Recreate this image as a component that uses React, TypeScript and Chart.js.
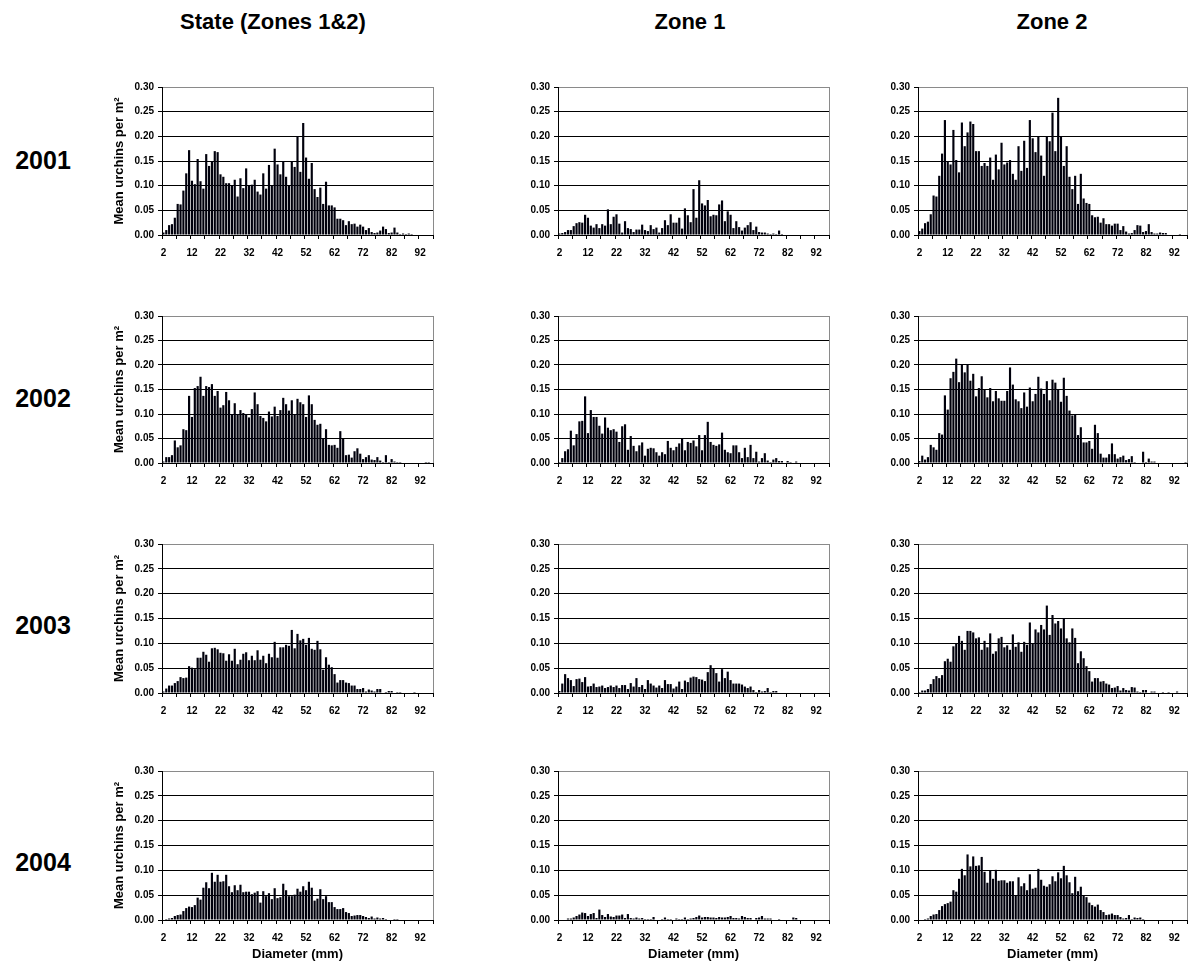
import React, { useEffect, useRef } from 'react';
import { Chart, registerables } from 'chart.js';

Chart.register(...registerables);

const FONT = "'Liberation Sans', Arial, Helvetica, sans-serif";

// Category axis: urchin test diameter (mm)
const diameters = [
  '2', '3', '4', '5', '6', '7', '8', '9', '10', '11',
  '12', '13', '14', '15', '16', '17', '18', '19', '20', '21',
  '22', '23', '24', '25', '26', '27', '28', '29', '30', '31',
  '32', '33', '34', '35', '36', '37', '38', '39', '40', '41',
  '42', '43', '44', '45', '46', '47', '48', '49', '50', '51',
  '52', '53', '54', '55', '56', '57', '58', '59', '60', '61',
  '62', '63', '64', '65', '66', '67', '68', '69', '70', '71',
  '72', '73', '74', '75', '76', '77', '78', '79', '80', '81',
  '82', '83', '84', '85', '86', '87', '88', '89', '90', '91',
  '92', '93', '94', '95', '96',
];

const yTickValues = [0, 0.05, 0.1, 0.15, 0.2, 0.25, 0.3];
const columnTitles = ['State (Zones 1&2)', 'Zone 1', 'Zone 2'];
const years = ['2001', '2002', '2003', '2004'];
const yAxisTitle = 'Mean urchins per m²';
const xAxisTitle = 'Diameter (mm)';

// ---- 2001 ----
const state2001 = [
  0.005, 0.01, 0.02, 0.022, 0.035, 0.063, 0.062, 0.09, 0.125, 0.172,
  0.11, 0.103, 0.154, 0.109, 0.094, 0.164, 0.14, 0.15, 0.17, 0.168,
  0.123, 0.118, 0.105, 0.105, 0.1, 0.112, 0.078, 0.115, 0.095, 0.135,
  0.1, 0.102, 0.112, 0.088, 0.082, 0.125, 0.094, 0.142, 0.1, 0.175,
  0.143, 0.123, 0.15, 0.118, 0.1, 0.15, 0.138, 0.2, 0.128, 0.227,
  0.157, 0.114, 0.146, 0.093, 0.077, 0.096, 0.063, 0.108, 0.06, 0.06,
  0.056, 0.033, 0.033, 0.03, 0.02, 0.028, 0.022, 0.023, 0.017, 0.021,
  0.017, 0.01, 0.014, 0.006, 0.004, 0.005, 0.009, 0.017, 0.012, 0.004,
  0.005, 0.015, 0.005, 0.002, 0.003, 0.002, 0.003, 0.002, 0.001, 0.001,
  0.001, 0.001, 0.001, 0.001, 0.001,
];
const zone1_2001 = [
  0.003, 0.004, 0.006, 0.01, 0.01, 0.018, 0.024, 0.026, 0.025, 0.041,
  0.035, 0.019, 0.015, 0.022, 0.014, 0.022, 0.019, 0.052, 0.022, 0.037,
  0.042, 0.023, 0.005, 0.028, 0.014, 0.012, 0.006, 0.011, 0.011, 0.021,
  0.01, 0.008, 0.02, 0.012, 0.015, 0.005, 0.014, 0.03, 0.02, 0.042,
  0.025, 0.025, 0.035, 0.013, 0.054, 0.04, 0.026, 0.093, 0.035, 0.111,
  0.064, 0.06, 0.071, 0.038, 0.041, 0.04, 0.062, 0.07, 0.028, 0.048,
  0.041, 0.014, 0.028, 0.016, 0.009, 0.015, 0.02, 0.026, 0.01, 0.017,
  0.006, 0.005, 0.005, 0.003, 0.002, 0.003, 0.002, 0.009, 0.002, 0.001,
  0, 0, 0, 0, 0, 0, 0, 0, 0, 0,
  0, 0, 0, 0, 0,
];
const zone2_2001 = [
  0.008, 0.013, 0.024, 0.027, 0.042, 0.08, 0.078, 0.12, 0.165, 0.233,
  0.15, 0.143, 0.213, 0.152, 0.127, 0.228, 0.18, 0.208, 0.23, 0.225,
  0.17, 0.17, 0.14, 0.146, 0.14, 0.157, 0.112, 0.163, 0.133, 0.187,
  0.143, 0.147, 0.152, 0.124, 0.112, 0.18, 0.13, 0.191, 0.136, 0.233,
  0.196, 0.168, 0.2, 0.161, 0.12, 0.2, 0.19, 0.248, 0.17, 0.278,
  0.2, 0.14, 0.18, 0.118, 0.093, 0.12, 0.063, 0.124, 0.074, 0.065,
  0.063, 0.04, 0.036, 0.037, 0.025, 0.034, 0.022, 0.022, 0.019, 0.023,
  0.023, 0.01, 0.018, 0.007, 0.003, 0.004, 0.01, 0.02, 0.019, 0.006,
  0.008, 0.022, 0.006, 0.003, 0.003, 0.005, 0.004, 0.004, 0.001, 0.001,
  0.001, 0.001, 0.002, 0.001, 0,
];

// ---- 2002 ----
const state2002 = [
  0.003, 0.012, 0.012, 0.016, 0.046, 0.032, 0.036, 0.069, 0.067, 0.137,
  0.094, 0.153, 0.157, 0.176, 0.137, 0.157, 0.155, 0.161, 0.137, 0.147,
  0.113, 0.118, 0.145, 0.128, 0.1, 0.122, 0.1, 0.108, 0.102, 0.1,
  0.093, 0.11, 0.144, 0.12, 0.096, 0.092, 0.085, 0.105, 0.095, 0.115,
  0.096, 0.108, 0.133, 0.12, 0.107, 0.128, 0.1, 0.131, 0.124, 0.12,
  0.094, 0.138, 0.12, 0.088, 0.078, 0.08, 0.051, 0.069, 0.037, 0.036,
  0.037, 0.031, 0.065, 0.049, 0.016, 0.017, 0.011, 0.024, 0.03, 0.019,
  0.008, 0.012, 0.016, 0.007, 0.006, 0.012, 0.005, 0.002, 0.016, 0.002,
  0.008, 0.003, 0.002, 0.002, 0.001, 0.001, 0, 0, 0.001, 0.001,
  0, 0, 0.002, 0.002, 0,
];
const zone1_2002 = [
  0.002, 0.01, 0.024, 0.028, 0.066, 0.036, 0.059, 0.085, 0.086, 0.136,
  0.061, 0.108, 0.094, 0.094, 0.076, 0.06, 0.093, 0.072, 0.067, 0.069,
  0.064, 0.043, 0.075, 0.079, 0.027, 0.055, 0.035, 0.024, 0.036, 0.042,
  0.015, 0.029, 0.031, 0.03, 0.022, 0.015, 0.022, 0.018, 0.045, 0.031,
  0.026, 0.033, 0.04, 0.05, 0.026, 0.043, 0.041, 0.046, 0.034, 0.057,
  0.026, 0.057, 0.084, 0.043, 0.037, 0.035, 0.038, 0.062, 0.027, 0.022,
  0.02, 0.036, 0.036, 0.022, 0.01, 0.031, 0.012, 0.037, 0.01, 0.023,
  0.003, 0.01, 0.02, 0.005, 0.002, 0.007, 0.01, 0.004, 0.004, 0.001,
  0.004, 0.002, 0.001, 0.003, 0.001, 0, 0, 0, 0, 0,
  0, 0, 0, 0, 0,
];
const zone2_2002 = [
  0.004, 0.015, 0.007, 0.012, 0.037, 0.032, 0.027, 0.061, 0.058, 0.138,
  0.109, 0.173, 0.186, 0.213, 0.165, 0.202, 0.185, 0.202, 0.168, 0.182,
  0.136, 0.153, 0.177, 0.149, 0.134, 0.153, 0.126, 0.147, 0.132, 0.127,
  0.127, 0.147, 0.195, 0.16, 0.13, 0.126, 0.112, 0.144, 0.115, 0.154,
  0.126, 0.141, 0.176, 0.152, 0.141, 0.167, 0.128, 0.17, 0.164, 0.15,
  0.125, 0.174, 0.137, 0.107, 0.097, 0.1, 0.057, 0.073, 0.042, 0.042,
  0.045, 0.029, 0.078, 0.061, 0.019, 0.011, 0.011, 0.018, 0.04, 0.018,
  0.009, 0.012, 0.015, 0.006, 0.008, 0.014, 0.002, 0.001, 0, 0.023,
  0.002, 0.009, 0.003, 0.003, 0, 0, 0.001, 0, 0, 0.001,
  0.001, 0, 0, 0, 0.002,
];

// ---- 2003 ----
const state2003 = [
  0.003, 0.009, 0.015, 0.015, 0.02, 0.024, 0.032, 0.03, 0.031, 0.054,
  0.051, 0.048, 0.071, 0.071, 0.083, 0.077, 0.063, 0.09, 0.091, 0.088,
  0.081, 0.08, 0.065, 0.078, 0.065, 0.089, 0.058, 0.067, 0.079, 0.082,
  0.066, 0.075, 0.066, 0.086, 0.067, 0.075, 0.06, 0.079, 0.072, 0.103,
  0.071, 0.092, 0.092, 0.097, 0.095, 0.127, 0.09, 0.119, 0.106, 0.109,
  0.097, 0.111, 0.089, 0.087, 0.105, 0.088, 0.047, 0.072, 0.057, 0.052,
  0.038, 0.021, 0.026, 0.026, 0.021, 0.02, 0.015, 0.015, 0.008, 0.008,
  0.01, 0.003, 0.007, 0.005, 0.003, 0.008, 0.008, 0.001, 0.002, 0.004,
  0.004, 0.001, 0.002, 0.002, 0, 0.001, 0.001, 0.001, 0.002, 0,
  0, 0.001, 0, 0.001, 0,
];
const zone1_2003 = [
  0.004, 0.019, 0.038, 0.03, 0.026, 0.014, 0.028, 0.029, 0.022, 0.032,
  0.013, 0.014, 0.019, 0.012, 0.013, 0.015, 0.01, 0.012, 0.015, 0.012,
  0.015, 0.01, 0.016, 0.016, 0.008, 0.02, 0.013, 0.03, 0.012, 0.016,
  0.008, 0.026, 0.019, 0.015, 0.011, 0.015, 0.01, 0.026, 0.018, 0.018,
  0.009, 0.013, 0.023, 0.008, 0.025, 0.022, 0.031, 0.033, 0.032, 0.028,
  0.027, 0.024, 0.042, 0.056, 0.049, 0.04, 0.023, 0.048, 0.03, 0.043,
  0.026, 0.019, 0.019, 0.019, 0.017, 0.013, 0.01, 0.013, 0.006, 0.002,
  0.006, 0.003, 0.004, 0.01, 0.002, 0.004, 0.004, 0.001, 0, 0.001,
  0.001, 0, 0.001, 0, 0, 0, 0.001, 0, 0.001, 0.001,
  0, 0, 0, 0, 0,
];
const zone2_2003 = [
  0.002, 0.005, 0.005, 0.008, 0.018, 0.028, 0.034, 0.03, 0.036, 0.064,
  0.069, 0.063, 0.094, 0.1, 0.115, 0.105, 0.087, 0.125, 0.125, 0.122,
  0.11, 0.112, 0.087, 0.105, 0.092, 0.12, 0.079, 0.084, 0.11, 0.113,
  0.092, 0.096, 0.087, 0.118, 0.093, 0.102, 0.083, 0.103, 0.097, 0.142,
  0.1, 0.128, 0.122, 0.137, 0.128, 0.176, 0.117, 0.157, 0.14, 0.145,
  0.13, 0.151, 0.11, 0.102, 0.13, 0.111, 0.06, 0.084, 0.07, 0.054,
  0.044, 0.023, 0.03, 0.03, 0.023, 0.024, 0.019, 0.017, 0.01, 0.011,
  0.014, 0.005, 0.01, 0.006, 0.005, 0.012, 0.011, 0.003, 0.002, 0.006,
  0.006, 0.001, 0.003, 0.003, 0, 0.001, 0.002, 0.001, 0.002, 0,
  0, 0.003, 0, 0, 0.001,
];

// ---- 2004 ----
const state2004 = [
  0.001, 0.002, 0.003, 0.004, 0.008, 0.01, 0.011, 0.018, 0.024, 0.027,
  0.026, 0.03, 0.045, 0.041, 0.065, 0.076, 0.064, 0.095, 0.077, 0.091,
  0.077, 0.078, 0.091, 0.068, 0.056, 0.07, 0.06, 0.071, 0.056, 0.057,
  0.057, 0.052, 0.055, 0.058, 0.035, 0.058, 0.048, 0.054, 0.042, 0.064,
  0.044, 0.046, 0.073, 0.06, 0.048, 0.048, 0.051, 0.063, 0.057, 0.068,
  0.06, 0.077, 0.065, 0.039, 0.043, 0.062, 0.042, 0.048, 0.036, 0.036,
  0.026, 0.022, 0.022, 0.024, 0.016, 0.014, 0.008, 0.009, 0.01, 0.01,
  0.008, 0.006, 0.004, 0.007, 0.003, 0.005, 0.003, 0.004, 0.002, 0.001,
  0.001, 0.002, 0.002, 0.001, 0.001, 0.001, 0, 0, 0, 0,
  0, 0, 0, 0, 0,
];
const zone1_2004 = [
  0.001, 0.001, 0.001, 0.003, 0.003, 0.005, 0.008, 0.011, 0.015, 0.014,
  0.008, 0.012, 0.014, 0.004, 0.021, 0.01, 0.006, 0.012, 0.007, 0.006,
  0.009, 0.009, 0.011, 0.004, 0.012, 0.004, 0.003, 0.005, 0.003, 0.004,
  0.002, 0.002, 0.002, 0.006, 0.001, 0, 0.002, 0.005, 0.002, 0.002,
  0.001, 0.003, 0.002, 0.002, 0.005, 0.002, 0.003, 0.004, 0.006, 0.009,
  0.005, 0.006, 0.006, 0.005, 0.005, 0.004, 0.006, 0.005, 0.005, 0.006,
  0.008, 0.004, 0.004, 0.003, 0.008, 0.006, 0.004, 0.004, 0.001, 0.004,
  0.005, 0.008, 0.003, 0.003, 0.003, 0, 0.001, 0.002, 0.001, 0,
  0, 0, 0.005, 0.004, 0, 0, 0, 0, 0, 0,
  0, 0, 0, 0, 0,
];
const zone2_2004 = [
  0, 0, 0.002, 0.003, 0.008, 0.011, 0.012, 0.02, 0.028, 0.032,
  0.034, 0.037, 0.06, 0.057, 0.083, 0.103, 0.09, 0.132, 0.108, 0.128,
  0.109, 0.11, 0.127, 0.097, 0.075, 0.1, 0.083, 0.101, 0.079, 0.08,
  0.08, 0.075, 0.078, 0.078, 0.049, 0.086, 0.068, 0.074, 0.06, 0.092,
  0.063, 0.065, 0.103, 0.081, 0.069, 0.067, 0.072, 0.088, 0.078, 0.096,
  0.084, 0.109, 0.09, 0.076, 0.054, 0.087, 0.058, 0.067, 0.05, 0.046,
  0.035, 0.03, 0.027, 0.031, 0.02, 0.016, 0.01, 0.011, 0.013, 0.01,
  0.01, 0.006, 0.003, 0.004, 0.01, 0.002, 0.005, 0.004, 0.005, 0.002,
  0.001, 0.001, 0.001, 0, 0.001, 0.001, 0.001, 0, 0, 0,
  0, 0, 0, 0, 0,
];

const panelData = [
  [state2001, zone1_2001, zone2_2001],
  [state2002, zone1_2002, zone2_2002],
  [state2003, zone1_2003, zone2_2003],
  [state2004, zone1_2004, zone2_2004],
];

// ---- layout (pixels) ----
const plotLefts = [162, 558, 918];
const plotRights = [433, 829, 1187];
const plotTops = [87, 316, 544, 771];
const plotBottoms = [235, 463, 693, 920];
const yAxisWidths = [51, 32, 32];
const PAD_TOP = 10;
const PAD_RIGHT = 10;
const colTitleCenters = [273, 690, 1052];
const yearCenters = [160, 398, 625, 862];

const rightBorderPlugin = {
  id: 'rightBorder',
  afterDraw(chart: any) {
    const { ctx, chartArea: a } = chart;
    ctx.save();
    ctx.strokeStyle = '#8a8a8a';
    ctx.lineWidth = 1;
    const x = Math.round(a.right - 0.5) + 0.5;
    ctx.beginPath();
    ctx.moveTo(x, a.top);
    ctx.lineTo(x, a.bottom);
    ctx.stroke();
    ctx.restore();
  },
};

type PanelProps = {
  values: number[];
  row: number;
  col: number;
};

function Panel({ values, row, col }: PanelProps) {
  const ref = useRef<HTMLCanvasElement | null>(null);
  const yw = yAxisWidths[col];
  const showXTitle = row === 3;
  const showYTitle = col === 0;
  const xh = showXTitle ? 42 : 24;
  const plotW = plotRights[col] - plotLefts[col];
  const plotH = plotBottoms[row] - plotTops[row];
  const left = plotLefts[col] - yw;
  const top = plotTops[row] - PAD_TOP;
  const width = yw + plotW + PAD_RIGHT;
  const height = PAD_TOP + plotH + xh;

  useEffect(() => {
    if (!ref.current) return;
    const tickColor = (ctx: any) =>
      ctx.index === undefined || ctx.index % 5 === 0 ? '#000000' : 'rgba(0,0,0,0)';
    const chart = new Chart(ref.current, {
      type: 'bar',
      data: {
        labels: diameters,
        datasets: [
          {
            data: values,
            backgroundColor: '#00000c',
            borderWidth: 0,
            barPercentage: 0.76,
            categoryPercentage: 1.0,
          },
        ],
      },
      options: {
        responsive: false,
        animation: false,
        devicePixelRatio: 1,
        layout: { padding: { top: PAD_TOP, right: PAD_RIGHT, left: 0, bottom: 0 } },
        plugins: {
          legend: { display: false },
          tooltip: { enabled: false },
          title: { display: false },
        },
        scales: {
          x: {
            type: 'category',
            offset: true,
            afterFit: (scale: any) => {
              scale.height = xh;
            },
            grid: {
              offset: true,
              drawOnChartArea: false,
              drawTicks: true,
              tickLength: 4,
              color: tickColor,
              tickColor: tickColor,
              lineWidth: 1,
            },
            border: { display: true, color: '#000000', width: 1 },
            ticks: {
              autoSkip: false,
              maxRotation: 0,
              minRotation: 0,
              padding: 8,
              color: '#000000',
              font: { family: FONT, size: 10, weight: 'bold' },
              callback: (_v: any, i: number) => (i % 10 === 0 ? diameters[i] : ''),
            },
            title: {
              display: showXTitle,
              text: xAxisTitle,
              color: '#000000',
              font: { family: FONT, size: 13, weight: 'bold' },
              padding: { top: 0, bottom: 0 },
            },
          },
          y: {
            min: 0,
            max: 0.3,
            afterFit: (scale: any) => {
              scale.width = yw;
            },
            afterBuildTicks: (scale: any) => {
              scale.ticks = yTickValues.map((v) => ({ value: v }));
            },
            grid: {
              drawTicks: true,
              tickLength: 4,
              color: (ctx: any) =>
                ctx.tick && ctx.tick.value >= 0.299 ? '#8a8a8a' : '#000000',
              tickColor: '#000000',
              lineWidth: 1,
            },
            border: { display: true, color: '#000000', width: 1 },
            ticks: {
              padding: 4,
              color: '#000000',
              font: { family: FONT, size: 10, weight: 'bold' },
              callback: (v: any) => Number(v).toFixed(2),
            },
            title: {
              display: showYTitle,
              text: yAxisTitle,
              color: '#000000',
              font: { family: FONT, size: 13, weight: 'bold' },
              padding: { top: 1, bottom: 0 },
            },
          },
        },
      },
      plugins: [rightBorderPlugin],
    } as any);
    return () => chart.destroy();
  }, []);

  return (
    <div style={{ position: 'absolute', left, top, width, height }}>
      <canvas ref={ref} width={width} height={height} style={{ width, height, display: 'block' }} />
    </div>
  );
}

export default function App() {
  return (
    <div
      style={{
        position: 'absolute',
        left: 0,
        top: 0,
        width: 1188,
        height: 963,
        overflow: 'hidden',
        background: '#ffffff',
        fontFamily: FONT,
      }}
    >
      {columnTitles.map((t, i) => (
        <div
          key={t}
          style={{
            position: 'absolute',
            left: colTitleCenters[i] - 150,
            width: 300,
            top: 9,
            lineHeight: '26px',
            fontSize: 22,
            fontWeight: 'bold',
            textAlign: 'center',
            color: '#000',
          }}
        >
          {t}
        </div>
      ))}
      {years.map((y, i) => (
        <div
          key={y}
          style={{
            position: 'absolute',
            left: 0,
            width: 86,
            top: yearCenters[i] - 15,
            lineHeight: '30px',
            fontSize: 25,
            fontWeight: 'bold',
            textAlign: 'center',
            color: '#000',
          }}
        >
          {y}
        </div>
      ))}
      {panelData.map((rowData, r) =>
        rowData.map((vals, c) => <Panel key={`${r}-${c}`} values={vals} row={r} col={c} />)
      )}
    </div>
  );
}
